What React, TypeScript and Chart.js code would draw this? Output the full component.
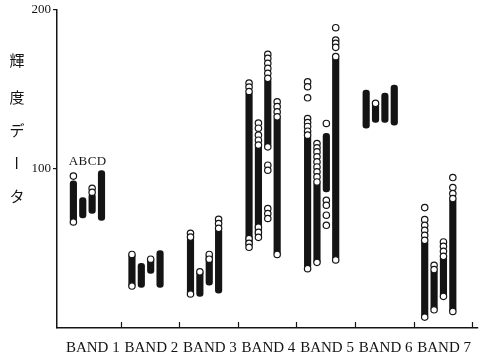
import React, { useEffect, useRef } from 'react';
import { Chart, registerables } from 'chart.js';

Chart.register(...registerables);

// ---- data ----
const bandLabels = ['BAND 1', 'BAND 2', 'BAND 3', 'BAND 4', 'BAND 5', 'BAND 6', 'BAND 7'];
const groupNames = ['A', 'B', 'C', 'D'];
const groupOffsets = [0.19, 0.35, 0.51, 0.67];
const yTicks = [100, 200];
const titleChars = ['輝', '度', 'デ', 'ー', 'タ'];
const letterLevel = 104.5;

const aLow = [66, 24.7, 19.6, 50, 36.5, 125.3, 5.9];
const aHigh = [92, 46.2, 56.5, 148.5, 120.9, 149.4, 54.4];
const bLow = [68.5, 24.7, 19, 56.3, 39.7, 129, 10.1];
const bHigh = [81.5, 39.9, 35.4, 114.6, 91.3, 141.8, 35.9];
const cLow = [71.5, 33.5, 26, 113.5, 85, 129, 18.5];
const cHigh = [84, 43, 46.2, 156.8, 122, 147.5, 44.3];
const dLow = [67, 24.7, 21, 45, 41.8, 127.2, 9.2];
const dHigh = [98.5, 48, 62, 132.5, 170.5, 152.5, 80.8];

const aCircles = [
  [95, 66],
  [45.5, 25.5],
  [58.9, 56.5, 20.5],
  [153.8, 151.3, 148.5, 55.5, 52.5, 50],
  [154.6, 151.5, 144.5, 131.4, 128.9, 126.4, 123.4, 120.9, 36.5],
  [],
  [75.1, 67.5, 63.9, 60.8, 57.6, 54.4, 5.9],
];
const bCircles = [
  [],
  [],
  [34.5],
  [128.5, 125.3, 121, 117.7, 114.6, 62.7, 59.5, 56.3],
  [115.6, 112.9, 110.3, 107.2, 104, 100.8, 97.7, 94.5, 91.3, 40.5],
  [141],
  [38.6, 35.9, 10.5],
];
const cCircles = [
  [87.3, 84.8],
  [42.5],
  [45.5, 42.5],
  [172, 169.4, 166.3, 163.1, 160, 156.8, 113.5, 101.9, 98.7, 74.5, 71.3, 68.2],
  [128.3, 79.7, 76.6, 70.3, 63.9],
  [],
  [53.4, 50.6, 47.5, 44.3, 19],
];
const dCircles = [
  [],
  [],
  [67.7, 65, 62],
  [142, 138.9, 135.6, 132.5, 45.5],
  [188.8, 181, 178.9, 176.4, 170.5, 42],
  [],
  [94.1, 87.8, 84, 80.8, 9.5],
];

const lows = [aLow, bLow, cLow, dLow];
const highs = [aHigh, bHigh, cHigh, dHigh];
const circles = [aCircles, bCircles, cCircles, dCircles];

const INK = '#141414';

const textPlugin = {
  id: 'annotText',
  afterDraw(chart: any) {
    const ctx = chart.ctx;
    const xs = chart.scales.x;
    const ys = chart.scales.y;
    ctx.save();
    // inward tick marks on the x axis at band boundaries
    ctx.strokeStyle = INK;
    ctx.lineWidth = 1.2;
    const axisY = chart.chartArea.bottom;
    xs.ticks.forEach((t: any) => {
      const px = Math.round(xs.getPixelForValue(t.value)) + 0.5;
      ctx.beginPath();
      ctx.moveTo(px, axisY);
      ctx.lineTo(px, axisY - 6);
      ctx.stroke();
    });
    ctx.fillStyle = INK;
    ctx.textAlign = 'center';
    ctx.textBaseline = 'middle';
    ctx.font = '13px "Liberation Serif"';
    groupNames.forEach((g, i) => {
      ctx.fillText(g, xs.getPixelForValue(groupOffsets[i]), ys.getPixelForValue(letterLevel));
    });
    ctx.font = '15px "Noto Sans CJK JP"';
    const ty = [60, 97, 130, 163, 196];
    titleChars.forEach((c, i) => {
      if (c === 'ー') {
        ctx.save();
        ctx.translate(17, ty[i]);
        ctx.rotate(Math.PI / 2);
        ctx.fillText(c, 0, 0);
        ctx.restore();
      } else {
        ctx.fillText(c, 17, ty[i]);
      }
    });
    ctx.restore();
  },
};

export default function App() {
  const ref = useRef<HTMLCanvasElement>(null);
  useEffect(() => {
    const barSets = groupNames.map((g, gi) => ({
      type: 'bar' as const,
      label: g + ' range',
      data: bandLabels.map((_, k) => ({ x: k + groupOffsets[gi], y: [lows[gi][k], highs[gi][k]] })),
      backgroundColor: INK,
      borderWidth: 0,
      borderRadius: 3.25,
      borderSkipped: false,
      grouped: false,
      maxBarThickness: 6.5,
      categoryPercentage: 1,
      barPercentage: 1,
      order: 2,
    }));
    const dotSets = groupNames.map((g, gi) => ({
      type: 'scatter' as const,
      label: g,
      data: circles[gi].flatMap((vals, k) => vals.map((v) => ({ x: k + groupOffsets[gi], y: v }))),
      pointRadius: 3.2,
      pointBorderWidth: 1.2,
      pointBackgroundColor: '#ffffff',
      pointBorderColor: INK,
      showLine: false,
      order: 1,
    }));
    const chart = new Chart(ref.current!, {
      type: 'bar',
      data: { datasets: [...barSets, ...dotSets] as any },
      options: {
        responsive: false,
        animation: false,
        devicePixelRatio: 1,
        layout: { padding: { top: 10, right: 7, left: 0, bottom: 0 }, autoPadding: false },
        plugins: { legend: { display: false }, tooltip: { enabled: false } },
        scales: {
          x: {
            type: 'linear',
            offset: false,
            min: -0.09,
            max: 7.1,
            afterBuildTicks: (s: any) => {
              s.ticks = bandLabels.map((_, i) => ({ value: i + 1 }));
            },
            afterFit: (s: any) => {
              s.height = 28;
              s.paddingLeft = 0;
              s.paddingRight = 0;
            },
            ticks: {
              callback: (v: any) => bandLabels[Number(v) - 1] ?? '',
              labelOffset: -28,
              padding: 11,
              autoSkip: false,
              maxRotation: 0,
              color: INK,
              font: { family: '"Liberation Serif"', size: 15 },
            },
            grid: { offset: false, drawOnChartArea: false, drawTicks: false, color: INK, lineWidth: 1.2 },
            border: { color: INK, width: 1.5 },
          },
          y: {
            type: 'linear',
            min: -1,
            max: 200,
            afterBuildTicks: (s: any) => {
              s.ticks = yTicks.map((v) => ({ value: v }));
            },
            afterFit: (s: any) => {
              s.width = 57;
            },
            ticks: {
              padding: 2,
              color: INK,
              font: { family: '"Liberation Serif"', size: 13 },
            },
            grid: { drawOnChartArea: false, tickLength: 4, color: INK, lineWidth: 1.2 },
            border: { color: INK, width: 1.5 },
          },
        },
      } as any,
      plugins: [textPlugin],
    });
    return () => chart.destroy();
  }, []);
  return (
    <div style={{ position: 'absolute', left: 0, top: 0, width: 485, height: 356, background: '#fff' }}>
      <canvas ref={ref} width={485} height={356} style={{ width: 485, height: 356, display: 'block' }} />
    </div>
  );
}
